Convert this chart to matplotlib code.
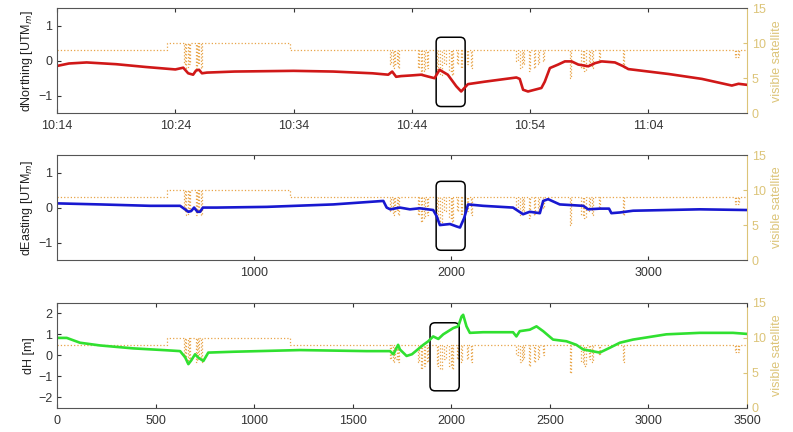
import numpy as np
import matplotlib.pyplot as plt
from matplotlib.patches import FancyBboxPatch

plt.rcParams['font.family'] = ['Liberation Sans', 'DejaVu Sans']

# time in seconds since 10:14:00
north_t = [0, 60, 150, 300, 450, 600, 640, 665, 690, 705, 720, 735, 760, 900, 1200, 1400, 1600,
           1680, 1700, 1720, 1745, 1800, 1847, 1880, 1915, 1940, 1982, 2025, 2050, 2084, 2169,
           2330, 2347, 2364, 2389, 2457, 2474, 2500, 2542, 2576, 2610, 2644, 2695, 2729, 2763,
           2830, 2873, 2898, 3102, 3271, 3423, 3457, 3500]
north_v = [-0.15, -0.08, -0.05, -0.1, -0.18, -0.25, -0.2, -0.36, -0.4, -0.28, -0.26, -0.36, -0.34,
           -0.31, -0.29, -0.31, -0.36, -0.4, -0.31, -0.46, -0.44, -0.42, -0.4, -0.45, -0.5, -0.26,
           -0.4, -0.73, -0.88, -0.67, -0.6, -0.48, -0.52, -0.83, -0.88, -0.78, -0.6, -0.21, -0.11,
           -0.02, -0.02, -0.11, -0.16, -0.07, -0.02, -0.05, -0.16, -0.24, -0.38, -0.52, -0.71,
           -0.66, -0.69]

east_t = [0, 218, 472, 624, 649, 666, 680, 695, 712, 725, 740, 810, 1063, 1401, 1655, 1672, 1690,
          1739, 1790, 1840, 1908, 1925, 1942, 1993, 2027, 2044, 2065, 2085, 2161, 2313, 2364,
          2398, 2449, 2466, 2491, 2550, 2669, 2694, 2753, 2800, 2812, 2855, 2922, 3260, 3500]
east_v = [0.12, 0.09, 0.05, 0.05, -0.05, -0.12, -0.1, 0.0, -0.12, -0.12, 0.0, 0.0, 0.02, 0.09,
          0.19, 0.0, -0.05, 0.0, -0.05, -0.02, -0.07, -0.24, -0.5, -0.47, -0.54, -0.57, -0.3,
          0.09, 0.05, 0.0, -0.19, -0.12, -0.16, 0.19, 0.24, 0.09, 0.05, -0.05, -0.03, -0.03,
          -0.16, -0.14, -0.09, -0.05, -0.07]

h_t = [0, 49, 116, 218, 387, 556, 624, 650, 666, 680, 700, 715, 742, 767, 894, 1232, 1570, 1689,
       1706, 1730, 1739, 1773, 1800, 1858, 1883, 1908, 1934, 1959, 2010, 2035, 2052, 2060, 2077,
       2094, 2161, 2313, 2330, 2347, 2398, 2432, 2466, 2516, 2584, 2634, 2669, 2753, 2804,
       2855, 2922, 3091, 3260, 3429, 3500]
h_v = [0.83, 0.83, 0.6, 0.47, 0.33, 0.24, 0.2, -0.1, -0.42, -0.25, 0.05, -0.1, -0.27, 0.13, 0.17,
       0.25, 0.2, 0.2, 0.05, 0.5, 0.28, -0.03, 0.05, 0.5, 0.67, 0.9, 0.78, 1.0, 1.3, 1.38, 1.85,
       1.93, 1.38, 1.07, 1.1, 1.1, 0.9, 1.15, 1.22, 1.38, 1.15, 0.75, 0.67, 0.5, 0.28, 0.13,
       0.36, 0.6, 0.75, 1.0, 1.07, 1.07, 1.02]

# visible satellites (step series)
sat_t = [0, 560, 645, 650, 655, 662, 668, 675, 705, 710, 716, 722, 728, 734, 1180,
         1690, 1695, 1702, 1708, 1716, 1722, 1730, 1736, 1745,
         1830, 1836, 1845, 1851, 1860, 1866, 1875, 1881,
         1925, 1931, 1945, 1951, 1965, 1971, 1990, 1996, 2005, 2011, 2030, 2036, 2048, 2054,
         2080, 2086, 2100, 2106,
         2330, 2336, 2350, 2356, 2365, 2371, 2395, 2401, 2420, 2426, 2440, 2446, 2465, 2471,
         2600, 2606, 2660, 2666, 2675, 2681, 2700, 2706, 2715, 2721, 2750, 2756, 2870, 2876,
         3440, 3446, 3455, 3461, 3500]
sat_n = [9, 10, 7, 10, 6.5, 10, 7, 10, 6.5, 10, 7, 10, 6.5, 10, 9,
         7, 9, 6.5, 9, 7, 9, 6.5, 9, 9,
         6.5, 9, 5.5, 9, 6, 9, 6.5, 9,
         6, 9, 5.5, 9, 7, 9, 6, 9, 5.5, 9, 7, 9, 6.5, 9,
         7, 9, 6.5, 9,
         7.5, 9, 6.5, 9, 7, 9, 6, 9, 6.5, 9, 7, 9, 7.5, 9,
         5, 9, 6.5, 9, 6, 9, 7, 9, 6.5, 9, 7.5, 9, 6.5, 9,
         8, 9, 8, 9, 9]

time_ticks = [0, 600, 1200, 1800, 2400, 3000]
time_labels = ['10:14', '10:24', '10:34', '10:44', '10:54', '11:04']

# highlight boxes: x0, x1, y0, y1
box_north = [1923, 2070, -1.31, 0.67]
box_east = [1923, 2070, -1.22, 0.75]
box_h = [1892, 2040, -1.69, 1.55]

sat_color = '#dcc478'
tick_color = '#333333'

fig = plt.figure(figsize=(7.93, 4.32), dpi=100)
panels = [
    (north_t, north_v, '#d01818', 'dNorthing [UTM$_m$]', (-1.5, 1.5), [-1, 0, 1], box_north, 0.738),
    (east_t, east_v, '#1818d0', 'dEasting [UTM$_m$]', (-1.5, 1.5), [-1, 0, 1], box_east, 0.398),
    (h_t, h_v, '#30e030', 'dH [m]', (-2.5, 2.5), [-2, -1, 0, 1, 2], box_h, 0.056),
]

for i, (t, v, col, lab, ylim, yt, box, bottom) in enumerate(panels):
    ax = fig.add_axes([0.072, bottom, 0.870, 0.243])
    ax2 = ax.twinx()
    ax2.plot(sat_t, sat_n, drawstyle='steps-post', ls=':', lw=0.9, color='#e8a448')
    ax2.set_ylim(0, 15)
    ax2.set_yticks([0, 5, 10, 15])
    ax2.tick_params(axis='y', colors=sat_color, labelsize=9, direction='in', length=3)
    ax2.set_ylabel('visible satellite', color=sat_color, fontsize=9, labelpad=4)
    ax2.spines['right'].set_color(sat_color)

    ax.set_zorder(ax2.get_zorder() + 1)
    ax.patch.set_visible(False)
    ax.plot(t, v, color=col, lw=1.9)
    ax.set_xlim(0, 3500)
    ax.set_ylim(*ylim)
    ax.set_yticks(yt)
    ax.set_ylabel(lab, fontsize=9, color='#222222', labelpad=2)
    ax.tick_params(axis='both', direction='in', length=3, labelsize=9, colors=tick_color,
                   top=True)
    ax.tick_params(axis='x', pad=5)
    if i == 0:
        ax.set_xticks(time_ticks)
        ax.set_xticklabels(time_labels)
    elif i == 1:
        ax.set_xticks([1000, 2000, 3000])
    else:
        ax.set_xticks(np.arange(0, 3501, 500))
    for s in ['left', 'top', 'bottom']:
        ax.spines[s].set_color('#555555')
    ax.spines['right'].set_visible(False)
    for s in ['left', 'top', 'bottom']:
        ax2.spines[s].set_visible(False)

    x0, x1, y0, y1 = box
    asp = (ylim[1] - ylim[0]) / 105 / (3500 / 690)
    ax.add_patch(FancyBboxPatch((x0, y0), x1 - x0, y1 - y0,
                                boxstyle='round,pad=0,rounding_size=25',
                                mutation_aspect=asp, fill=False, ec='black', lw=1.1))

fig.savefig('out.png', dpi=100)
